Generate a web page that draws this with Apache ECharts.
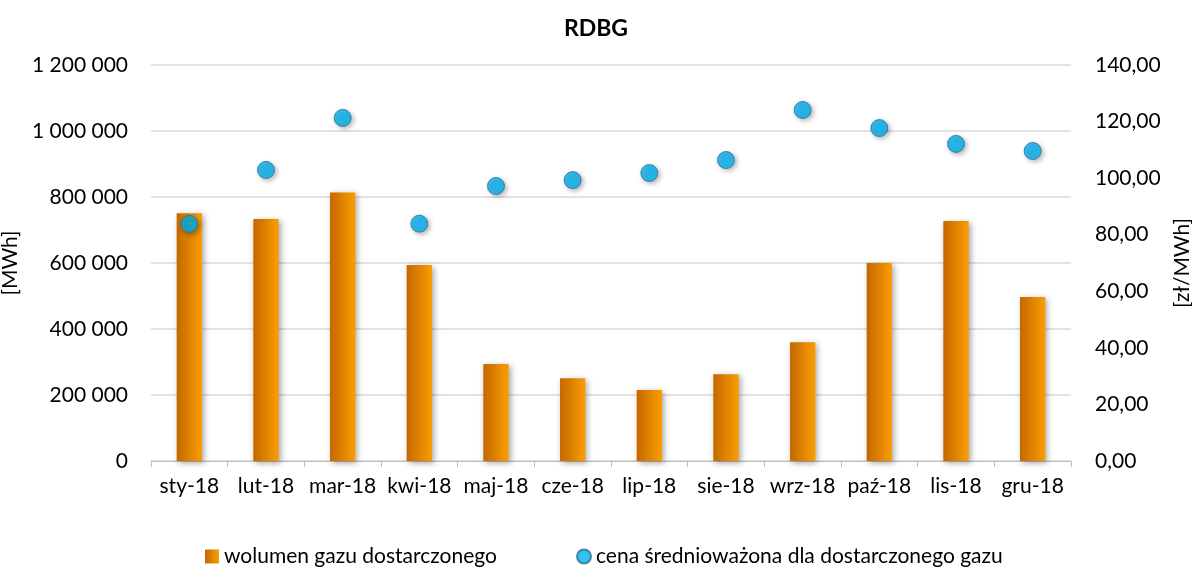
<!DOCTYPE html>
<html><head><meta charset="utf-8">
<script src="https://cdn.jsdelivr.net/npm/echarts@6/dist/echarts.min.js"></script>
<style>html,body{margin:0;padding:0;background:#fff}#c{width:1192px;height:568px}</style>
</head><body><div id="c"></div>
<script>
const categories = ['sty-18','lut-18','mar-18','kwi-18','maj-18','cze-18','lip-18','sie-18','wrz-18','paź-18','lis-18','gru-18'];
const volume = [751000, 733000, 814000, 594000, 294000, 251000, 215000, 263000, 360000, 600000, 727000, 497000];
const price = [83.8, 102.9, 121.3, 83.9, 97.2, 99.3, 101.8, 106.4, 124.1, 117.7, 112.1, 109.6];
const leftTicks = [0, 200000, 400000, 600000, 800000, 1000000, 1200000];
const rightTicks = [0, 20, 40, 60, 80, 100, 120, 140];
const seriesNames = ['wolumen gazu dostarczonego', 'cena średnioważona dla dostarczonego gazu'];

const FONT = 'Lato';
const FS = 21;
const chart = echarts.init(document.getElementById('c'));
const barGrad = new echarts.graphic.LinearGradient(0,0,1,0,[{offset:0,color:'#c46800'},{offset:1,color:'#fb9d00'}]);
const legendText = {fontFamily:FONT,fontSize:FS,color:'#000'};
chart.setOption({
  animation:false,
  textStyle:{fontFamily:FONT},
  title:{text:'RDBG',left:'center',top:12,textStyle:{fontFamily:FONT,fontWeight:'bold',fontSize:23,color:'#000'}},
  legend:[
    {top:541,left:200,itemWidth:14,itemHeight:14,itemGap:8,textStyle:legendText,data:[{name:seriesNames[0],icon:'rect'}]},
    {top:541,left:571,itemWidth:14,itemHeight:14,itemGap:8,textStyle:legendText,data:[{name:seriesNames[1],icon:'circle'}]}
  ],
  grid:{left:151,right:121,top:65,bottom:107,containLabel:false,outerBoundsMode:'none'},
  xAxis:{type:'category',data:categories,boundaryGap:true,
    axisLine:{lineStyle:{color:'#bfbfbf'}},axisTick:{show:true,length:6,lineStyle:{color:'#bfbfbf'}},
    axisLabel:{fontFamily:FONT,fontSize:FS,color:'#000',margin:15,interval:0}},
  yAxis:[
    {type:'value',min:leftTicks[0],max:leftTicks[leftTicks.length-1],interval:leftTicks[1]-leftTicks[0],
     name:'[MWh]',nameLocation:'middle',nameGap:106,nameRotate:90,
     nameTextStyle:{fontFamily:FONT,fontSize:FS,color:'#000'},
     axisLine:{show:false},axisTick:{show:false},
     splitLine:{lineStyle:{color:'#d9d9d9',width:1.5}},
     axisLabel:{fontFamily:FONT,fontSize:FS,color:'#000',margin:23,formatter:v=>String(v).replace(/\B(?=(\d{3})+(?!\d))/g,' ')}},
    {type:'value',min:rightTicks[0],max:rightTicks[rightTicks.length-1],interval:rightTicks[1]-rightTicks[0],
     name:'[zł/MWh]',nameLocation:'middle',nameGap:99,nameRotate:90,
     nameTextStyle:{fontFamily:FONT,fontSize:FS,color:'#000'},
     axisLine:{show:false},axisTick:{show:false},splitLine:{show:false},
     axisLabel:{fontFamily:FONT,fontSize:FS,color:'#000',margin:24,formatter:v=>v.toFixed(2).replace('.',',')}}
  ],
  series:[
    {name:seriesNames[0],type:'bar',data:volume,barWidth:'33%',yAxisIndex:0,
     itemStyle:{color:barGrad,shadowColor:'rgba(0,0,0,0.35)',shadowBlur:6,shadowOffsetX:2,shadowOffsetY:2}},
    {name:seriesNames[1],type:'scatter',data:price,yAxisIndex:1,symbolSize:17,
     itemStyle:{color:'#00b0f0',borderColor:'#2a6f8c',borderWidth:1,shadowColor:'rgba(0,0,0,0.35)',shadowBlur:5,shadowOffsetX:2,shadowOffsetY:2}}
  ]
});
</script></body></html>
